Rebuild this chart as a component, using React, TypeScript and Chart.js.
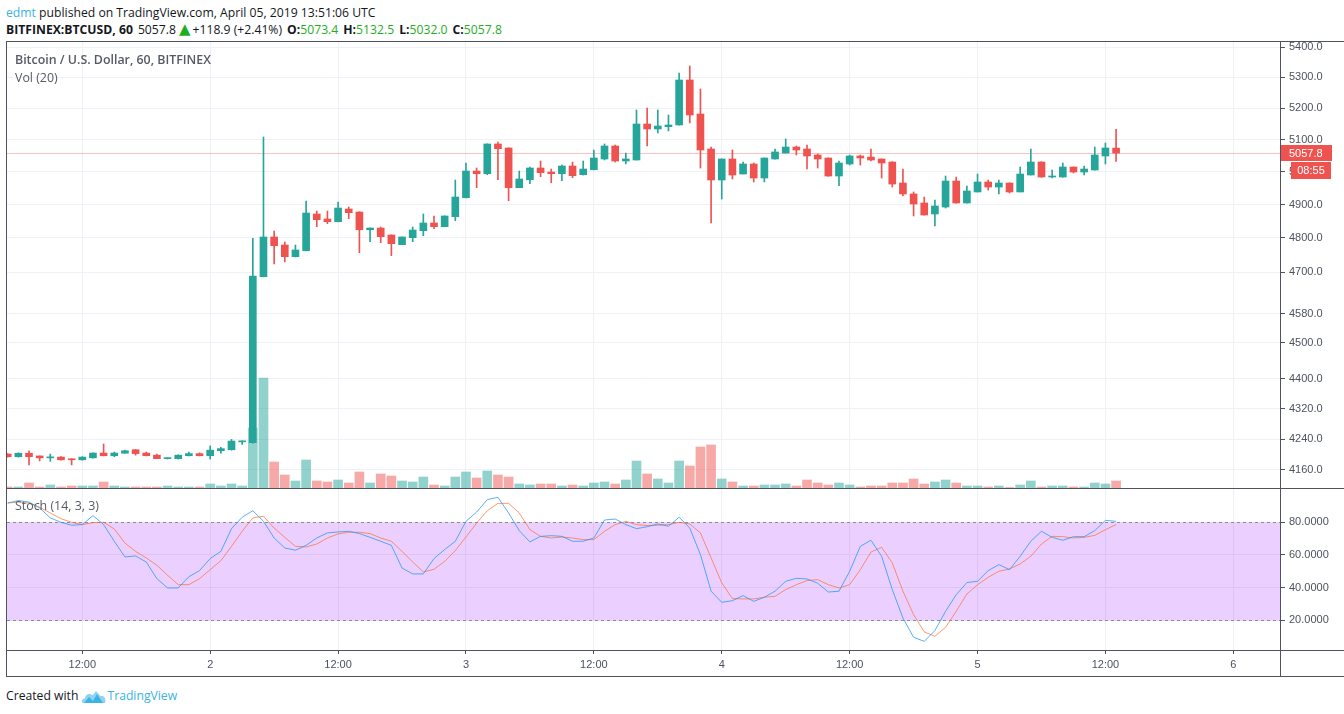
import React, { useEffect, useRef } from 'react';
import { Chart, registerables } from 'chart.js';
Chart.register(...registerables);

// ---- DATA (hourly candles, BITFINEX:BTCUSD, from April 1 05:00 UTC) ----
const FIRST_HOUR = 5; // hours since April 1 00:00

const opens = [
  4201, 4194, 4203, 4196, 4191, 4193, 4188, 4186, 4191, 4203.5,
  4196.5, 4203, 4212, 4203.5, 4198, 4189, 4189, 4196.5, 4202, 4196.5,
  4209.5, 4212, 4232.6, 4230.3, 4686.6, 4802.8, 4779.1, 4744.9, 4762.3, 4871.4,
  4856.4, 4848.3, 4886.4, 4877.4, 4824.4, 4829.4, 4808.7, 4780.0, 4800.7, 4821.4,
  4844.4, 4833.4, 4863.3, 4920.6, 5002.3, 4994.0, 5086.4, 5073.9, 4951.0, 4975.5,
  5011.6, 4999.2, 4994.0, 5017.8, 4990.9, 5006.3, 5039.5, 5080.1, 5033.3, 5036.4,
  5149.5, 5133.7, 5141.0, 5146.4, 5291.2, 5181.4, 5070.7, 4974.6, 5039.5, 4993.0,
  5024.0, 4980.7, 5039.5, 5058.2, 5076.9, 5070.7, 5052.0, 5042.6, 4986.8, 5024.0,
  5048.9, 5045.7, 5039.5, 5030.2, 4965.4, 4932.0, 4904.6, 4871.4, 4892.4, 4971.5,
  4904.6, 4938.0, 4968.5, 4953.1, 4965.4, 4938.0, 4990.0, 5030.2, 4983.8, 4983.8,
  5014.7, 4999.2, 5005.4, 5048.9, 5073.4,
];
const highs = [
  4202, 4204, 4209, 4196, 4201, 4194, 4189, 4194, 4204, 4227,
  4206, 4211, 4213, 4206, 4201, 4191, 4199, 4206, 4204, 4222,
  4218, 4239, 4235.5, 4798.9, 5108.4, 4820.5, 4788.0, 4779.1, 4910.6, 4880.4,
  4880.4, 4907.6, 4892.4, 4878, 4830, 4832.4, 4809, 4803, 4832.4, 4871.4,
  4865.4, 4866, 4974.6, 5027.1, 5011.6, 5087, 5092.6, 5074.5, 5002.3, 5014.7,
  5033.3, 5008.5, 5020.9, 5030.2, 5033.3, 5067.6, 5086.4, 5083.2, 5058.2, 5194.2,
  5200.6, 5194.2, 5178.2, 5314.1, 5337.2, 5261.9, 5076.9, 5040, 5067.6, 5030.2,
  5027.1, 5043, 5070.7, 5102.1, 5080.1, 5083.2, 5055.1, 5043, 5033.3, 5052.0,
  5052.0, 5070.7, 5040, 5031, 5008.5, 4938.0, 4922.7, 4913.6, 4986.8, 4983.8,
  4956.2, 4993.0, 4974.6, 4974.6, 4966, 5014.7, 5070.7, 5031, 5005.4, 5027.1,
  5015, 5017.8, 5076.9, 5089.5, 5132.5,
];
const lows = [
  4193, 4193, 4173, 4183, 4182, 4185, 4173, 4185, 4190, 4196,
  4194, 4203, 4198, 4196, 4189, 4188, 4188, 4196, 4196, 4188,
  4203, 4211, 4226, 4229, 4686, 4723.5, 4729.3, 4744, 4762, 4833.4,
  4842.4, 4848, 4857.3, 4756.5, 4788.9, 4786.0, 4747.7, 4780, 4788.9, 4806.6,
  4827.3, 4833, 4851.3, 4920, 4951.0, 4990.9, 4975.5, 4911.5, 4951, 4963.2,
  4984.8, 4966.2, 4972.5, 4981.7, 4990, 5006, 5036.4, 5030.2, 5024.0, 5036,
  5080.1, 5121.0, 5127.3, 5146, 5152.7, 5011.6, 4844.4, 4916.6, 4977.7, 4993,
  4968.5, 4968.5, 5039, 5058, 5052.0, 5008.5, 5011.6, 4986, 4957.2, 5020.9,
  5020.9, 5033.3, 4980.7, 4953.1, 4925.7, 4865.4, 4868, 4835.4, 4889.4, 4904,
  4904, 4938, 4944.0, 4932.0, 4935.0, 4938, 4990, 4983, 4980.7, 4983,
  4996.1, 4990.0, 5005, 5024.0, 5032.0,
];
const closes = [
  4194, 4203, 4194, 4191, 4192.5, 4186, 4186, 4193, 4203.5, 4196.5,
  4203.5, 4209.5, 4202, 4196.5, 4189, 4191, 4198, 4202, 4196.5, 4211,
  4215, 4234.7, 4235, 4688.6, 4802.8, 4777.1, 4744.9, 4764.4, 4874.4, 4854.3,
  4848.3, 4889.4, 4875.3, 4824.4, 4829.4, 4803.7, 4783.0, 4802.8, 4823.5, 4844.4,
  4833.4, 4865.4, 4922.7, 5002.3, 4994.0, 5086.4, 5071.7, 4951.0, 4977.7, 5011.6,
  4997.1, 4994.0, 5017.8, 4987.9, 5008.5, 5042.6, 5080.1, 5033.3, 5039.5, 5149.5,
  5133.7, 5143.2, 5146.4, 5291.2, 5178.2, 5067.6, 4974.6, 5039.5, 4990.0, 5024.0,
  4980.7, 5042.6, 5061.4, 5076.9, 5067.6, 5048.9, 5039.5, 4986.8, 5027.1, 5048.9,
  5042.6, 5036.4, 5027.1, 4962.3, 4932.0, 4901.5, 4868.4, 4895.5, 4971.5, 4904.6,
  4941.0, 4968.5, 4953.1, 4965.4, 4938.0, 4993.0, 5030.2, 4983.8, 4986.8, 5014.7,
  4999.2, 5008.5, 5052.0, 5073.9, 5057.8,
];
// volume (relative units)
const volumes = [
  1, 1, 5, 1, 3, 1, 2, 2, 2, 6,
  2, 1, 1, 1, 1, 2, 1, 1, 1, 4,
  2, 4, 2, 60, 110, 26, 13, 7, 28, 7,
  6, 8, 5, 16, 5, 14, 12, 7, 6, 11,
  3, 2, 11, 16, 10, 17, 13, 11, 4, 3,
  4, 4, 2, 3, 2, 5, 6, 4, 8, 27,
  14, 9, 5, 27, 22, 41, 43, 9, 6, 2,
  2, 3, 3, 4, 2, 8, 5, 3, 5, 3,
  1, 2, 2, 5, 5, 9, 4, 6, 8, 5,
  2, 2, 1, 2, 0.5, 3, 7, 1, 2, 2,
  1, 1, 5, 4, 7,
];
const stochK = [
  91.8, 93.3, 92.4, 88.8, 82.7, 80.0, 78.2, 78.6, 84.1, 78.6,
  68.4, 58.8, 59.4, 55.7, 45.5, 39.8, 39.8, 46.7, 50.4, 57.8,
  62.2, 76.1, 83.1, 87.1, 80.6, 70.4, 64.3, 62.9, 65.9, 70.4,
  73.5, 74.1, 74.5, 73.1, 70.8, 68.4, 65.9, 52.0, 48.4, 48.4,
  57.8, 63.3, 68.4, 80.6, 86.3, 93.9, 95.3, 85.7, 74.9, 68.0,
  71.4, 71.8, 71.4, 68.4, 68.4, 70.4, 81.4, 82.0, 78.6, 76.1,
  77.3, 79.0, 77.6, 83.1, 76.5, 60.2, 37.8, 31.0, 32.0, 35.1,
  31.6, 34.1, 37.8, 43.9, 45.7, 45.3, 42.7, 37.3, 37.8, 50.0,
  65.3, 69.0, 59.2, 38.8, 21.4, 9.6, 7.1, 13.7, 25.5, 35.7,
  43.1, 43.9, 50.4, 54.1, 51.0, 59.2, 68.4, 74.5, 70.8, 69.0,
  71.2, 71.2, 74.9, 81.2, 80.6,
];
const stochD = [
  91.8, 92.4, 91.8, 89.2, 85.7, 82.2, 80.0, 78.6, 79.8, 80.0,
  75.9, 67.3, 62.2, 58.2, 53.7, 47.6, 41.8, 41.8, 45.5, 51.0,
  56.5, 65.3, 74.5, 82.7, 83.7, 76.5, 70.8, 65.3, 64.9, 66.7,
  70.4, 72.9, 73.9, 73.9, 73.1, 70.4, 68.4, 62.2, 55.7, 49.6,
  51.2, 56.1, 62.7, 71.0, 79.6, 87.1, 91.6, 91.6, 85.7, 75.5,
  71.4, 70.4, 71.0, 70.4, 69.4, 69.4, 74.5, 78.6, 80.6, 78.6,
  78.0, 78.2, 78.6, 80.0, 79.0, 73.5, 58.2, 42.9, 33.3, 33.1,
  33.1, 34.1, 34.7, 38.8, 41.8, 44.3, 44.9, 41.8, 39.8, 41.8,
  51.0, 61.8, 64.7, 55.1, 37.8, 23.5, 12.9, 10.2, 15.7, 25.5,
  36.1, 41.8, 46.3, 50.0, 51.4, 54.5, 59.2, 66.7, 71.4, 71.2,
  70.4, 70.8, 72.0, 75.5, 78.6,
];
const hours = opens.map((_, i) => FIRST_HOUR + i);

const priceTicks = [4160, 4240, 4320, 4400, 4500, 4580, 4700, 4800, 4900, 5000, 5100, 5200, 5300, 5400];
const timeTicks = [12, 24, 36, 48, 60, 72, 84, 96, 108, 120];
const timeLabels = ['12:00', '2', '12:00', '3', '12:00', '4', '12:00', '5', '12:00', '6'];
const stochTicks = [20, 40, 60, 80];
const BAND_HIGH = 80;
const BAND_LOW = 20;
const LAST_PRICE = 5057.8;
const CHANGE = '+118.9';
const CHANGE_PCT = '(+2.41%)';
const COUNTDOWN = '08:55';

// ---- STYLE / LAYOUT ----
const X_MIN = 4.935;
const X_MAX = 124.38;
const PRICE_MIN = 4113.8;
const PRICE_MAX = 5416.7;
const VOL_MAX = 446;
const STOCH_MIN = 1.8;
const STOCH_MAX = 100.4;

const UP = '#26a69a';
const DOWN = '#ef5350';
const UP_VOL = 'rgba(38,166,154,0.5)';
const DOWN_VOL = 'rgba(239,83,80,0.5)';
const GRID = '#eef1f6';
const FRAME = '#50535e';
const AXIS_TEXT = '#4c525e';
const GREEN = '#1fae1f';
const AXIS_FONT = { family: '"Liberation Sans", Arial, sans-serif', size: 11 };
const UI_FONT = '"Open Sans", "Noto Sans", sans-serif';

const PRICE_W = 1337;
const PRICE_H = 446;
const STOCH_H = 188;

const noPad = (s: any) => {
  s.paddingTop = 0;
  s.paddingBottom = 0;
  s.paddingLeft = 0;
  s.paddingRight = 0;
};

const priceMarks = {
  id: 'priceMarks',
  beforeDatasetsDraw(chart: any) {
    const { ctx, chartArea, scales } = chart;
    const y = Math.round(scales.y.getPixelForValue(LAST_PRICE)) + 0.5;
    ctx.save();
    ctx.strokeStyle = 'rgba(239,83,80,0.35)';
    ctx.lineWidth = 1;
    ctx.beginPath();
    ctx.moveTo(chartArea.left, y);
    ctx.lineTo(chartArea.right, y);
    ctx.stroke();
    ctx.restore();
  },
  afterDraw(chart: any) {
    const { ctx, chartArea, scales } = chart;
    const yc = Math.round(scales.y.getPixelForValue(LAST_PRICE));
    const x0 = chartArea.right;
    ctx.save();
    ctx.fillStyle = DOWN;
    ctx.fillRect(x0, yc - 8, 52, 16);
    ctx.fillRect(x0 + 11, yc + 9, 40, 17);
    ctx.fillStyle = '#ffffff';
    ctx.font = '11px "Liberation Sans", Arial, sans-serif';
    ctx.textBaseline = 'middle';
    ctx.textAlign = 'left';
    ctx.fillText(LAST_PRICE.toFixed(1), x0 + 9, yc + 0.5);
    ctx.textAlign = 'center';
    ctx.fillText(COUNTDOWN, x0 + 31, yc + 17.5);
    ctx.restore();
  },
};

const bandPlugin = {
  id: 'band',
  beforeDatasetsDraw(chart: any) {
    const { ctx, chartArea, scales } = chart;
    const yHi = Math.round(scales.y.getPixelForValue(BAND_HIGH)) + 0.5;
    const yLo = Math.round(scales.y.getPixelForValue(BAND_LOW)) + 0.5;
    ctx.save();
    ctx.fillStyle = 'rgba(153,21,255,0.2)';
    ctx.fillRect(chartArea.left, yHi, chartArea.right - chartArea.left, yLo - yHi);
    ctx.strokeStyle = '#8a8d99';
    ctx.lineWidth = 1;
    ctx.setLineDash([3, 3]);
    ctx.beginPath();
    ctx.moveTo(chartArea.left, yHi);
    ctx.lineTo(chartArea.right, yHi);
    ctx.moveTo(chartArea.left, yLo);
    ctx.lineTo(chartArea.right, yLo);
    ctx.stroke();
    ctx.restore();
  },
};

function PriceChart() {
  const ref = useRef<HTMLCanvasElement>(null);
  useEffect(() => {
    const up = closes.map((c, i) => c >= opens[i]);
    const chart = new Chart(ref.current as HTMLCanvasElement, {
      type: 'bar',
      data: {
        datasets: [
          {
            label: 'wick',
            data: hours.map((h, i) => ({ x: h, y: [lows[i], highs[i]] })) as any,
            backgroundColor: up.map((u) => (u ? UP : DOWN)),
            barThickness: 1,
            grouped: false,
            yAxisID: 'y',
            order: 1,
          } as any,
          {
            label: 'body',
            data: hours.map((h, i) => ({ x: h, y: [opens[i], closes[i]] })) as any,
            backgroundColor: up.map((u) => (u ? UP : DOWN)),
            barThickness: 7,
            minBarLength: 1,
            grouped: false,
            yAxisID: 'y',
            order: 0,
          } as any,
          {
            label: 'volume',
            data: hours.map((h, i) => ({ x: h, y: volumes[i] })) as any,
            backgroundColor: up.map((u) => (u ? UP_VOL : DOWN_VOL)),
            barThickness: 9,
            grouped: false,
            yAxisID: 'vol',
            order: 2,
          } as any,
        ],
      },
      options: {
        responsive: false,
        animation: false,
        events: [],
        layout: { padding: 0, autoPadding: false } as any,
        plugins: { legend: { display: false }, tooltip: { enabled: false } },
        scales: {
          x: {
            type: 'linear',
            min: X_MIN,
            max: X_MAX,
            bounds: 'data',
            offset: false,
            grid: { color: GRID, drawTicks: false, offset: false } as any,
            border: { display: false },
            ticks: { display: false },
            afterBuildTicks: (s: any) => { s.ticks = timeTicks.map((v) => ({ value: v })); },
            afterFit: (s: any) => { s.height = 0; noPad(s); },
          } as any,
          y: {
            type: 'logarithmic',
            position: 'right',
            min: PRICE_MIN,
            max: PRICE_MAX,
            bounds: 'data',
            grid: { color: GRID, tickColor: FRAME, tickLength: 5, drawTicks: true },
            border: { display: false },
            ticks: {
              font: AXIS_FONT,
              color: AXIS_TEXT,
              padding: 4,
              autoSkip: false,
              callback: (v: any) => Number(v).toFixed(1),
            },
            afterBuildTicks: (s: any) => { s.ticks = priceTicks.map((v) => ({ value: v })); },
            afterFit: (s: any) => { s.width = 64; noPad(s); },
          } as any,
          vol: {
            type: 'linear',
            display: false,
            min: 0,
            max: VOL_MAX,
            position: 'left',
            afterFit: (s: any) => { noPad(s); },
          } as any,
        },
      },
      plugins: [priceMarks],
    });
    return () => chart.destroy();
  }, []);
  return (
    <canvas
      ref={ref}
      width={PRICE_W}
      height={PRICE_H}
      style={{ position: 'absolute', left: 7, top: 42, width: PRICE_W, height: PRICE_H, display: 'block' }}
    />
  );
}

function StochChart() {
  const ref = useRef<HTMLCanvasElement>(null);
  useEffect(() => {
    const chart = new Chart(ref.current as HTMLCanvasElement, {
      type: 'line',
      data: {
        datasets: [
          {
            label: '%K',
            data: hours.map((h, i) => ({ x: h, y: stochK[i] })),
            borderColor: 'rgba(33,150,243,0.75)',
            borderWidth: 1,
            pointRadius: 0,
            tension: 0,
          },
          {
            label: '%D',
            data: hours.map((h, i) => ({ x: h, y: stochD[i] })),
            borderColor: 'rgba(255,100,30,0.65)',
            borderWidth: 1,
            pointRadius: 0,
            tension: 0,
          },
        ],
      },
      options: {
        responsive: false,
        animation: false,
        events: [],
        layout: { padding: 0, autoPadding: false } as any,
        plugins: { legend: { display: false }, tooltip: { enabled: false } },
        scales: {
          x: {
            type: 'linear',
            position: 'bottom',
            min: X_MIN,
            max: X_MAX,
            bounds: 'data',
            offset: false,
            grid: { color: GRID, tickColor: FRAME, tickLength: 4, drawTicks: true },
            border: { display: false },
            ticks: {
              font: AXIS_FONT,
              color: AXIS_TEXT,
              padding: 4,
              autoSkip: false,
              maxRotation: 0,
              callback: (v: any) => {
                const k = timeTicks.indexOf(Number(v));
                return k >= 0 ? timeLabels[k] : '';
              },
            },
            afterBuildTicks: (s: any) => { s.ticks = timeTicks.map((v) => ({ value: v })); },
            afterFit: (s: any) => { s.height = STOCH_H - 161; noPad(s); },
          } as any,
          y: {
            type: 'linear',
            position: 'right',
            min: STOCH_MIN,
            max: STOCH_MAX,
            bounds: 'data',
            grid: { color: GRID, tickColor: FRAME, tickLength: 5, drawTicks: true },
            border: { display: false },
            ticks: {
              font: AXIS_FONT,
              color: AXIS_TEXT,
              padding: 4,
              autoSkip: false,
              callback: (v: any) => Number(v).toFixed(4),
            },
            afterBuildTicks: (s: any) => { s.ticks = stochTicks.map((v) => ({ value: v })); },
            afterFit: (s: any) => { s.width = 64; noPad(s); },
          } as any,
        },
      },
      plugins: [bandPlugin],
    });
    return () => chart.destroy();
  }, []);
  return (
    <canvas
      ref={ref}
      width={PRICE_W}
      height={STOCH_H}
      style={{ position: 'absolute', left: 7, top: 489, width: PRICE_W, height: STOCH_H, display: 'block' }}
    />
  );
}

const line = (left: number, top: number, width: number, height: number) => (
  <div style={{ position: 'absolute', left, top, width, height, background: FRAME }} />
);

export default function App() {
  const last = opens.length - 1;
  const lbl: React.CSSProperties = { fontWeight: 700 };
  const grn: React.CSSProperties = { color: GREEN };
  const hdr: React.CSSProperties = { position: 'absolute', left: 6, fontSize: 12.2, lineHeight: '18px', whiteSpace: 'nowrap' };
  return (
    <div
      style={{
        position: 'absolute',
        left: 0,
        top: 0,
        width: 1344,
        height: 714,
        background: '#ffffff',
        overflow: 'hidden',
        fontFamily: UI_FONT,
        color: '#131722',
      }}
    >
      <div style={{ ...hdr, top: 4 }}>
        <span style={{ color: '#3bb3e4' }}>edmt</span> published on TradingView.com, April 05, 2019 13:51:06 UTC
      </div>
      <div style={{ ...hdr, top: 21 }}>
        <span style={lbl}>BITFINEX:BTCUSD, 60</span>
        <span style={{ marginLeft: 5 }}>{closes[last].toFixed(1)}</span>
        <span style={{ color: GREEN, marginLeft: 3, fontSize: 15, lineHeight: '16px', verticalAlign: 'top', fontFamily: '"DejaVu Sans", sans-serif' }}>▲</span>
        <span style={{ marginLeft: 2 }}>{CHANGE} {CHANGE_PCT}</span>
        <span style={{ ...lbl, marginLeft: 5 }}>O:</span>
        <span style={grn}>{opens[last].toFixed(1)}</span>
        <span style={{ ...lbl, marginLeft: 5 }}>H:</span>
        <span style={grn}>{highs[last].toFixed(1)}</span>
        <span style={{ ...lbl, marginLeft: 5 }}>L:</span>
        <span style={grn}>{lows[last].toFixed(1)}</span>
        <span style={{ ...lbl, marginLeft: 5 }}>C:</span>
        <span style={grn}>{closes[last].toFixed(1)}</span>
      </div>

      <PriceChart />
      <StochChart />

      {line(6, 41, 1338, 1)}
      {line(6, 41, 1, 636)}
      {line(6, 488, 1338, 1)}
      {line(6, 650, 1338, 1)}
      {line(6, 676, 1338, 1)}
      {line(1280, 41, 1, 636)}

      <div style={{ position: 'absolute', left: 15, top: 51, fontSize: 12.4, lineHeight: '17px', fontWeight: 600, color: '#555a64', whiteSpace: 'nowrap' }}>
        Bitcoin / U.S. Dollar, 60, BITFINEX
      </div>
      <div style={{ position: 'absolute', left: 15, top: 69, fontSize: 12.4, lineHeight: '17px', color: '#555a64', whiteSpace: 'nowrap' }}>
        Vol (20)
      </div>
      <div style={{ position: 'absolute', left: 15, top: 497, fontSize: 12.4, lineHeight: '17px', color: '#555a64', whiteSpace: 'nowrap' }}>
        Stoch (14, 3, 3)
      </div>

      <div style={{ position: 'absolute', left: 6, top: 687, fontSize: 12.2, lineHeight: '18px', whiteSpace: 'nowrap', display: 'flex', alignItems: 'center' }}>
        <span>Created with</span>
        <svg width="24" height="15" viewBox="0 0 24 15" style={{ marginLeft: 4, marginRight: 1 }}>
          <path d="M1 14 C-1 14 -0.5 9 3 9.5 C3 5 8 3.5 10.5 6.5 L14 2 L18.5 7 C22 6 24.5 10 23 14 Z" fill="#8fd3f4" />
          <path d="M2 14 L7 8 L11 12 L15 5 L21 14 Z" fill="#3bb3e4" />
        </svg>
        <span style={{ color: '#3bb3e4' }}>TradingView</span>
      </div>
    </div>
  );
}
